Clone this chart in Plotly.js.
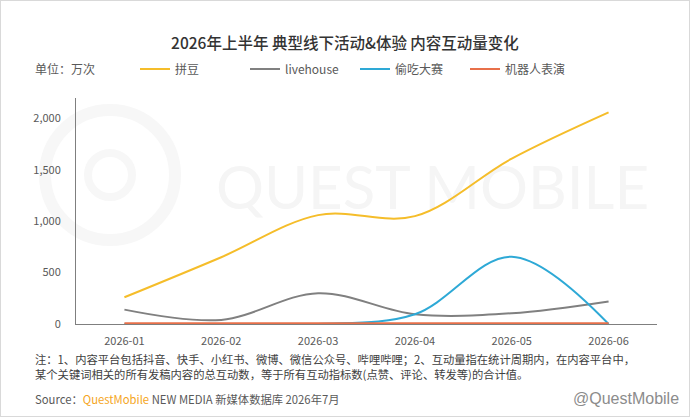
<!DOCTYPE html>
<html><head><meta charset="utf-8">
<script src="https://cdn.plot.ly/plotly-3.0.1.min.js"></script>
<style>
html,body{margin:0;padding:0;background:#fff;}
#wrap{position:relative;width:690px;height:417px;}
#chart{position:absolute;left:0;top:0;width:690px;height:417px;}
#frame{position:absolute;left:0;top:0;width:690px;height:417px;box-sizing:border-box;border:1px solid #d9d9d9;pointer-events:none;}
</style></head>
<body><div id="wrap"><div id="chart"></div><div id="frame"></div></div>
<script>
const months = ["2026-01","2026-02","2026-03","2026-04","2026-05","2026-06"];
const seriesNames = ["拼豆","livehouse","偷吃大赛","机器人表演"];
const pindou = [260, 650, 1060, 1050, 1610, 2060];
const livehouse = [140, 40, 300, 95, 105, 220];
const touchi = [0, 0, 0, 95, 655, 0];
const robot = [8, 8, 8, 8, 8, 8];
const yTicks = [0, 500, 1000, 1500, 2000];
const colors = ["#F5BD2A","#808080","#2EA9D6","#E8704A"];

const FONT = "'Noto Sans CJK SC', 'Noto Sans', sans-serif";
const L = 76, R = 33, T = 98, B = 93, W = 690, H = 417;
const PW = W - L - R, PH = H - T - B;
const px = x => (x - L) / PW;
const py = y => (H - B - y) / PH;

const allVals = [pindou, livehouse, touchi, robot];
const traces = allVals.map((v,i)=>({
  type:'scatter', mode:'lines', x: months, y: v, name: seriesNames[i],
  line:{color: colors[i], width: 2, shape:'spline', smoothing: 1},
  hoverinfo:'skip'
}));

const layout = {
  width:W, height:H,
  margin:{l:L, r:R, t:T, b:B},
  paper_bgcolor:'#fff', plot_bgcolor:'rgba(0,0,0,0)',
  font:{family: FONT, color:'#595959', size:11},
  title:{text:'2026年上半年 典型线下活动&体验 内容互动量变化', x:0.5, xanchor:'center', y:1-44/H, yanchor:'middle', yref:'container',
    font:{family: FONT, size:15.5, color:'#333333', weight: 500}},
  showlegend:true,
  legend:{orientation:'h', xref:'container', yref:'container', x:135/W, xanchor:'left', y:1-69/H, yanchor:'middle',
    font:{family: FONT, size:12, color:'#595959'}, entrywidth:65, entrywidthmode:'pixels', itemwidth:30, bgcolor:'rgba(0,0,0,0)'},
  xaxis:{type:'category', range:[-0.5,5.5], showgrid:false, zeroline:false, showline:true, linecolor:'#7f7f7f', linewidth:1,
    ticks:'', ticklabelstandoff:7, tickfont:{family: FONT, size:11, color:'#595959'}, fixedrange:true},
  yaxis:{range:[0,2200], tickvals:yTicks, ticktext:yTicks.map(v=>v.toLocaleString('en-US')), showgrid:false, zeroline:false,
    showline:true, linecolor:'#7f7f7f', linewidth:1, ticks:'', ticklabelstandoff:12,
    tickfont:{family: FONT, size:11, color:'#595959'}, fixedrange:true},
  shapes:[
    {type:'circle', xref:'paper', yref:'paper', x0:px(45), x1:px(175), y0:py(240), y1:py(110), layer:'below',
      line:{color:'#f7f7f7', width:12}},
    {type:'circle', xref:'paper', yref:'paper', x0:px(88), x1:px(132), y0:py(197), y1:py(153), layer:'below',
      line:{color:'#f7f7f7', width:8}},
    {type:'rect', xref:'paper', yref:'paper', x0:px(200), x1:px(665), y0:py(225), y1:py(145), layer:'below',
      line:{width:0}, fillcolor:'rgba(0,0,0,0)',
      label:{text:'QUEST MOBILE', font:{family:"'Lato', sans-serif", size:60, color:'#f5f5f5'}, textposition:'middle center'}}
  ],
  annotations:[
    {text:'单位：万次', xref:'paper', yref:'paper', x:px(33), y:py(69), xanchor:'left', yanchor:'middle', showarrow:false,
      font:{family: FONT, size:12, color:'#595959'}},
    {text:'注：1、内容平台包括抖音、快手、小红书、微博、微信公众号、哔哩哔哩；2、互动量指在统计周期内，在内容平台中，', xref:'paper', yref:'paper',
      x:px(33), y:py(359), xanchor:'left', yanchor:'middle', showarrow:false, font:{family: FONT, size:11.3, color:'#404040'}},
    {text:'某个关键词相关的所有发稿内容的总互动数，等于所有互动指标数(点赞、评论、转发等)的合计值。', xref:'paper', yref:'paper',
      x:px(33), y:py(374), xanchor:'left', yanchor:'middle', showarrow:false, font:{family: FONT, size:11.3, color:'#404040'}},
    {text:'Source：<span style="color:#F5A623">QuestMobile</span> NEW MEDIA 新媒体数据库 2026年7月', xref:'paper', yref:'paper',
      x:px(33), y:py(399), xanchor:'left', yanchor:'middle', showarrow:false, font:{family: FONT, size:11.3, color:'#595959'}},
    {text:'@QuestMobile', xref:'paper', yref:'paper',
      x:px(681), y:py(398), xanchor:'right', yanchor:'middle', showarrow:false, font:{family:"'Liberation Sans', sans-serif", size:16, color:'#8c8c8c'}}
  ]
};
Plotly.newPlot('chart', traces, layout, {displayModeBar:false, staticPlot:true});
</script></body></html>
